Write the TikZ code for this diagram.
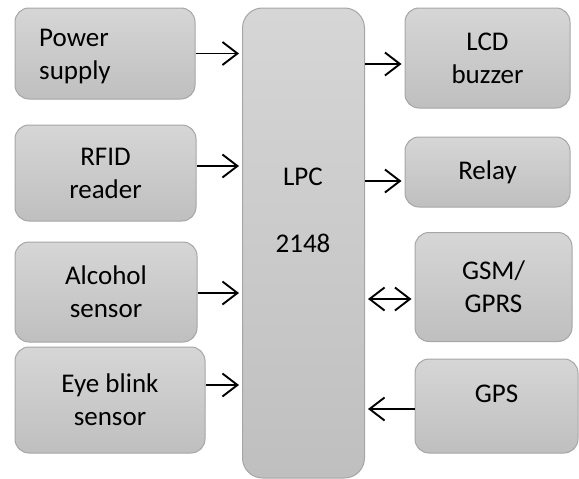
\documentclass[tikz,border=0pt]{standalone}
\usepackage{fontspec}
\setmainfont{Carlito}
\usetikzlibrary{arrows.meta}
\definecolor{boxtop}{HTML}{D6D6D6}
\definecolor{boxbot}{HTML}{BFBFBF}
\definecolor{boxedge}{HTML}{A6A6A6}
\tikzset{
  txt/.style={font=\fontsize{27}{33}\selectfont},
  blk/.style={draw=boxedge, line width=1pt, rounded corners=14pt,
    top color=boxtop, bottom color=boxbot, inner sep=0pt, txt, align=center},
  tip/.tip={Straight Barb[length=15pt,width=23pt,line width=1.9pt]},
  conn/.style={line width=1.9pt, -tip},
  biconn/.style={line width=1.9pt, tip-tip}
}
\begin{document}
\begin{tikzpicture}[x=1pt,y=-1pt]
\useasboundingbox (0,0) rectangle (579,479);
% left column
\node[blk, minimum width=180pt, minimum height=91pt] (ps) at (105,53.5) {};
\node[txt, align=left, anchor=west, inner sep=0pt] (pst) at (39,57) {Power\\supply};
\node[blk, minimum width=181pt, minimum height=96pt] (rf) at (105.5,173) {RFID\\reader};
\node[blk, minimum width=182pt, minimum height=100pt] (al) at (106,292) {Alcohol\\sensor};
\node[blk, minimum width=190pt, minimum height=106pt] (eb) at (110,400) {Eye blink\\sensor};
% centre
\node[blk, rounded corners=20pt, minimum width=122pt, minimum height=470pt] (lpc) at (303.5,243) {};
\node[txt, inner sep=0pt] (lpct) at (303,177) {LPC};
\node[txt, inner sep=0pt] (lpcn) at (303,243) {2148};
% right column
\node[blk, minimum width=165pt, minimum height=100pt] (lcd) at (487.5,58) {LCD\\buzzer};
\node[blk, minimum width=165pt, minimum height=70pt] (rel) at (487.5,172) {Relay};
\node[blk, minimum width=157pt, minimum height=109pt] (gsm) at (493.5,287) {GSM/\\GPRS};
\node[blk, minimum width=163pt, minimum height=94pt] (gps) at (496.5,406) {\raisebox{24pt}{GPS}};
% connectors
\draw[conn, shorten >=3pt] (ps.east) -- (ps.east -| lpc.west);
\draw[conn, shorten >=3pt] ([yshift=7pt]rf.east) -- ([yshift=7pt]rf.east -| lpc.west);
\draw[conn, shorten >=3pt] ([yshift=-1pt]al.east) -- ([yshift=-1pt]al.east -| lpc.west);
\draw[conn, shorten >=3pt] ([yshift=15pt]eb.east) -- ([yshift=15pt]eb.east -| lpc.west);
\draw[conn, shorten >=3pt] ([yshift=-6pt]lpc.east |- lcd.west) -- ([yshift=-6pt]lcd.west);
\draw[conn, shorten >=3pt] (lpc.east |- 0,181) coordinate (r0) -- (r0 -| rel.west);
\draw[biconn, shorten >=3pt, shorten <=3pt] ([yshift=-12pt]lpc.east |- gsm.west) -- ([yshift=-12pt]gsm.west);
\draw[conn, shorten >=3pt] ([yshift=-3pt]gps.west) -- ([yshift=-3pt]gps.west -| lpc.east);
\end{tikzpicture}
\end{document}
